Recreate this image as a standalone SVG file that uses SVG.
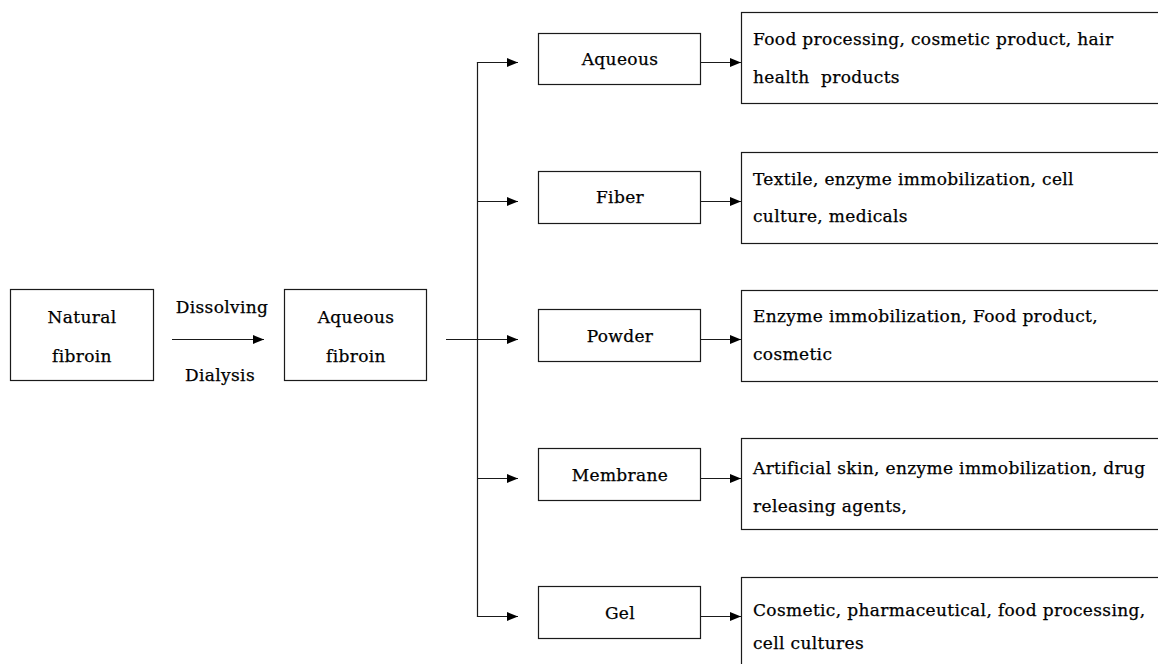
<svg xmlns="http://www.w3.org/2000/svg" width="1158" height="664" viewBox="0 0 1158 664">
<style>
  .box { fill: #ffffff; stroke: #1a1a1a; stroke-width: 1.2; }
  .conn { fill: none; stroke: #1a1a1a; stroke-width: 1.2; }
  .t { font-family: 'DejaVu Serif', 'Liberation Serif', serif; font-size: 17px; fill: #000; stroke: #000; stroke-width: 0.25; letter-spacing: 0.35px; }
  .c { text-anchor: middle; }
</style>
<defs>
  <marker id="arr" markerUnits="userSpaceOnUse" markerWidth="12" markerHeight="10" refX="11" refY="4.5" orient="auto">
    <path d="M0,0 L11,4.5 L0,9 Z" fill="#000"/>
  </marker>
</defs>
<rect width="1158" height="664" fill="#ffffff"/>

<g id="connectors">
  <line class="conn" x1="172" y1="339.5" x2="264" y2="339.5" marker-end="url(#arr)"/>
  <line class="conn" x1="446" y1="339.5" x2="518" y2="339.5" marker-end="url(#arr)"/>
  <line class="conn" x1="477.5" y1="62.5" x2="477.5" y2="616.5"/>
  <line class="conn" x1="476.9" y1="62.5" x2="518" y2="62.5" marker-end="url(#arr)"/>
  <line class="conn" x1="477.5" y1="201.5" x2="518" y2="201.5" marker-end="url(#arr)"/>
  <line class="conn" x1="477.5" y1="478.5" x2="518" y2="478.5" marker-end="url(#arr)"/>
  <line class="conn" x1="476.9" y1="616.5" x2="518" y2="616.5" marker-end="url(#arr)"/>
  <line class="conn" x1="700" y1="62.5" x2="741" y2="62.5" marker-end="url(#arr)"/>
  <line class="conn" x1="700" y1="201.5" x2="741" y2="201.5" marker-end="url(#arr)"/>
  <line class="conn" x1="700" y1="339.5" x2="741" y2="339.5" marker-end="url(#arr)"/>
  <line class="conn" x1="700" y1="478.5" x2="741" y2="478.5" marker-end="url(#arr)"/>
  <line class="conn" x1="700" y1="616.5" x2="741" y2="616.5" marker-end="url(#arr)"/>
  <text class="t c" x="222" y="313">Dissolving</text>
  <text class="t c" x="220" y="381">Dialysis</text>
</g>

<g id="natural-fibroin">
  <rect class="box" x="10.5" y="289.5" width="143" height="91"/>
  <text class="t c" x="82" y="323">Natural</text>
  <text class="t c" x="82" y="362">fibroin</text>
</g>

<g id="aqueous-fibroin">
  <rect class="box" x="284.5" y="289.5" width="142" height="91"/>
  <text class="t c" x="356" y="323">Aqueous</text>
  <text class="t c" x="356" y="362">fibroin</text>
</g>

<g id="aqueous">
  <rect class="box" x="538.5" y="33.5" width="162" height="51"/>
  <text class="t c" x="620" y="65">Aqueous</text>
</g>
<g id="fiber">
  <rect class="box" x="538.5" y="171.5" width="162" height="52"/>
  <text class="t c" x="620" y="203">Fiber</text>
</g>
<g id="powder">
  <rect class="box" x="538.5" y="309.5" width="162" height="52"/>
  <text class="t c" x="620" y="342">Powder</text>
</g>
<g id="membrane">
  <rect class="box" x="538.5" y="448.5" width="162" height="52"/>
  <text class="t c" x="620" y="481">Membrane</text>
</g>
<g id="gel">
  <rect class="box" x="538.5" y="586.5" width="162" height="52"/>
  <text class="t c" x="620" y="619">Gel</text>
</g>

<g id="use-aqueous">
  <rect class="box" x="741.5" y="12.5" width="420" height="91"/>
  <text class="t" x="753" y="45">Food processing, cosmetic product, hair</text>
  <text class="t" x="753" y="83" xml:space="preserve">health  products</text>
</g>
<g id="use-fiber">
  <rect class="box" x="741.5" y="152.5" width="420" height="91"/>
  <text class="t" x="753" y="185">Textile, enzyme immobilization, cell</text>
  <text class="t" x="753" y="222">culture, medicals</text>
</g>
<g id="use-powder">
  <rect class="box" x="741.5" y="290.5" width="420" height="91"/>
  <text class="t" x="753" y="322">Enzyme immobilization, Food product,</text>
  <text class="t" x="753" y="360">cosmetic</text>
</g>
<g id="use-membrane">
  <rect class="box" x="741.5" y="438.5" width="420" height="91"/>
  <text class="t" x="753" y="474">Artificial skin, enzyme immobilization, drug</text>
  <text class="t" x="753" y="512">releasing agents,</text>
</g>
<g id="use-gel">
  <rect class="box" x="741.5" y="577.5" width="420" height="100"/>
  <text class="t" x="753" y="616">Cosmetic, pharmaceutical, food processing,</text>
  <text class="t" x="753" y="649">cell cultures</text>
</g>
</svg>
